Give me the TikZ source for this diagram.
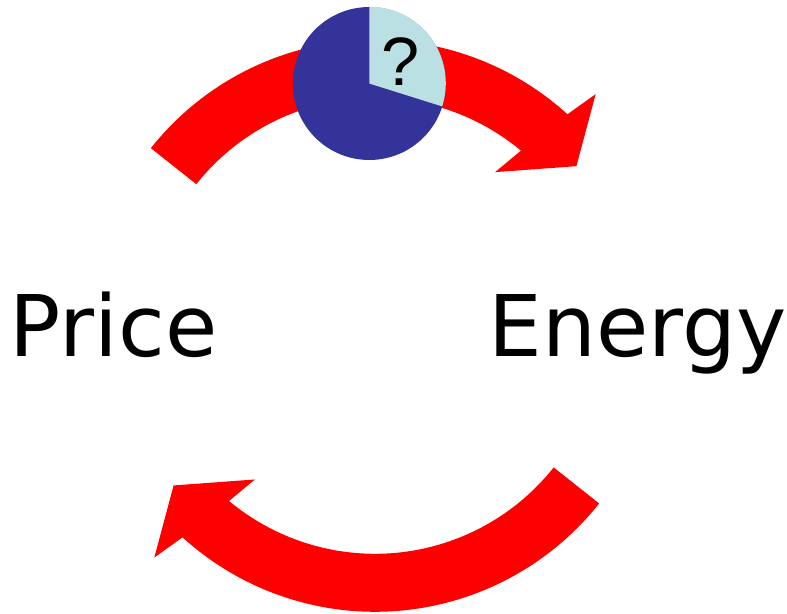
\documentclass[tikz,border=0pt]{standalone}
\usepackage{fontspec}
\usepackage{tikz}
\usetikzlibrary{calc}
\newfontfamily\labelfont{DejaVu Sans}
\newfontfamily\qfont{Liberation Sans}
\definecolor{cycRed}{HTML}{FF0000}
\definecolor{pDark}{HTML}{333399}
\definecolor{pLight}{HTML}{BBE0E3}
\tikzset{
  cyc/.style  ={fill=cycRed},
  word/.style ={inner sep=0pt,anchor=base west,font=\labelfont\fontsize{48.4}{58}\selectfont},
  pie/.style  ={circle,fill=pDark,inner sep=0pt,minimum size=3.06cm},
  slice/.style={fill=pLight},
}
\begin{document}
\begin{tikzpicture}[x=0.02cm,y=0.02cm]
  \useasboundingbox (0,0) rectangle (787,613);
  \coordinate (C) at (375,287.2);

  % the two bent arrows round the loop
  \foreach \r in {0,180}
    \fill[cyc,rotate around={\r:(C)}] ($(C)+(141.6:286)$)
      arc[start angle=141.6,end angle=47.7,radius=286]
      -- ($(C)+(46.4:320)$) -- ($(C)+(38.4:257)$) -- ($(C)+(52:195)$)
      -- ($(C)+(50.2:228)$)
      arc[start angle=50.2,end angle=141.6,radius=228] -- cycle;

  \node[word] (price)  at (9.5,257)  {Price};
  \node[word] (energy) at (488.5,257) {Energy};

  % pie on top
  \node[pie] (pie) at (369.3,529.5) {};
  \fill[slice] (pie.center) -- (pie.north)
    arc[start angle=90,end angle=-17.7,radius=76.5] -- cycle;
  \node[inner sep=0pt,anchor=base,font=\qfont\fontsize{39}{44}\selectfont] (q) at (401,527) {?};
\end{tikzpicture}
\end{document}
